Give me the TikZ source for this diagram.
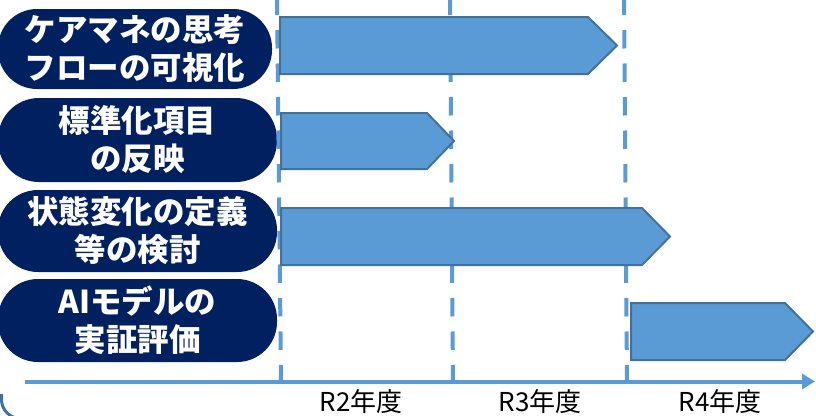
\documentclass[tikz,border=0pt]{standalone}
\usepackage{fontspec}
\newfontfamily\jp{Noto Sans CJK JP}
\usetikzlibrary{arrows.meta}
\definecolor{navy}{RGB}{0,32,96}
\definecolor{barfill}{RGB}{91,155,213}
\definecolor{barline}{RGB}{65,113,156}
\definecolor{gridblue}{RGB}{91,155,213}
\tikzset{
  pill/.style={fill=navy, text=white, align=center, inner sep=0pt,
    font=\jp\bfseries\fontsize{31.5}{38}\selectfont},
  bar/.style={fill=barfill, draw=barline, line width=2pt, line join=miter},
  yearline/.style={draw=gridblue, line width=4pt, dash pattern=on 18.5pt off 15pt},
  axisline/.style={draw=gridblue, line width=4pt, -{Triangle[length=13pt,width=15pt]}},
  yearlabel/.style={font=\jp\fontsize{26}{30}\selectfont, text=black, inner sep=0pt},
  framecorner/.style={draw=barline, line width=3pt, rounded corners=19pt}
}
\begin{document}
\begin{tikzpicture}[x=1pt,y=-1pt]
\useasboundingbox (0,0) rectangle (816,415);
% outer frame corner
\draw[framecorner] (1.5,394) -- (1.5,418.5) -- (40,418.5);
% pills
\node[pill, minimum width=274pt, minimum height=80pt, rounded corners=39pt] (p1) at (135,49) {ケアマネの思考\\フローの可視化};
\node[pill, minimum width=279pt, minimum height=84pt, rounded corners=41pt] (p2) at (137.5,140) {標準化項目\\の反映};
\node[pill, minimum width=279pt, minimum height=82pt, rounded corners=40pt] (p3) at (137.5,231) {状態変化の定義\\等の検討};
\node[pill, minimum width=279pt, minimum height=83pt, rounded corners=40pt] (p4) at (137.5,320.5) {AIモデルの\\実証評価};
% year grid lines
\coordinate (l1t) at (277,-3.5);
\coordinate (l1b) at (281,381.5);
\coordinate (l2t) at (450,-3.5);
\coordinate (l2b) at (453,381.5);
\coordinate (l3t) at (624,-3.5);
\coordinate (l3b) at (627,381.5);
\draw[yearline] (l1t) -- (l1b);
\draw[yearline] (l2t) -- (l2b);
\draw[yearline] (l3t) -- (l3b);
% axis
\coordinate (ax0) at (25,381.5);
\coordinate (ax1) at (815,381.5);
\draw[axisline] (ax0) -- (ax1);
% bars
\draw[bar] (280,17) -- (588,17) -- (617,45.5) -- (588,74) -- (280,74) -- cycle;
\draw[bar] (281,113) -- (427,113) -- (454,141) -- (427,169) -- (281,169) -- cycle;
\draw[bar] (281,208) -- (642,208) -- (670,236.5) -- (642,265) -- (281,265) -- cycle;
\draw[bar] (631,303) -- (785,303) -- (813,331.5) -- (785,360) -- (631,360) -- cycle;
% year labels
\node[yearlabel] (r2) at (361,402) {R2年度};
\node[yearlabel] (r3) at (540,402) {R3年度};
\node[yearlabel] (r4) at (720,402) {R4年度};
\end{tikzpicture}
\end{document}
